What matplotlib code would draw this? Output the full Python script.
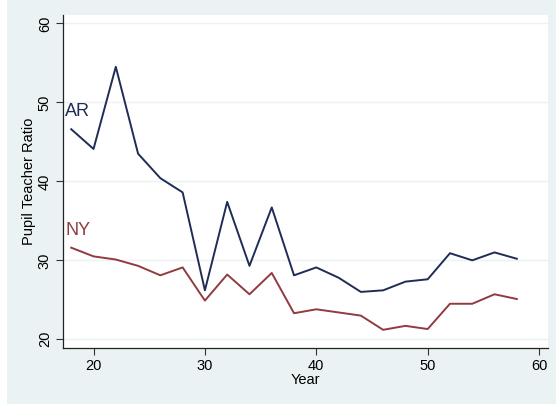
import numpy as np
import matplotlib
matplotlib.use("Agg")
import matplotlib.pyplot as plt
from matplotlib.patches import Rectangle

# Pupil-teacher ratio by year
years = [18, 20, 22, 24, 26, 28, 30, 32, 34, 36, 38, 40, 42, 44, 46, 48, 50, 52, 54, 56, 58]
ar_ratio = [46.6, 44.1, 54.5, 43.5, 40.4, 38.6, 26.2, 37.4, 29.3, 36.7, 28.1,
            29.1, 27.8, 26.0, 26.2, 27.3, 27.6, 30.9, 30.0, 31.0, 30.2]
ny_ratio = [31.6, 30.5, 30.1, 29.3, 28.1, 29.1, 24.9, 28.2, 25.7, 28.4, 23.3,
            23.8, 23.4, 23.0, 21.2, 21.7, 21.3, 24.5, 24.5, 25.7, 25.1]
x_ticks = [20, 30, 40, 50, 60]
y_ticks = [20, 30, 40, 50, 60]

NAVY   = "#1f2d56"
MAROON = "#913a40"
BG     = "#eaf2f3"

plt.rcParams["font.family"] = ["Liberation Sans", "DejaVu Sans"]

fig = plt.figure(figsize=(5.56, 4.04), dpi=100, facecolor=BG)
fig.patches.append(Rectangle((0, 0), 7 / 556, 1, transform=fig.transFigure,
                             facecolor="white", edgecolor="none", zorder=-1))

ax = fig.add_axes([63 / 556, 55.7 / 404, 485 / 556, 333.6 / 404])
ax.set_facecolor("white")

ax.plot(years, ar_ratio, color=NAVY, linewidth=1.4)
ax.plot(years, ny_ratio, color=MAROON, linewidth=1.4)

ax.text(17.45, 48.8, "AR", color=NAVY, fontsize=13, ha="left", va="center")
ax.text(17.45, 33.8, "NY", color=MAROON, fontsize=13, ha="left", va="center")

ax.set_xlim(17.26, 60.8)
ax.set_ylim(18.86, 61.1)
ax.set_xticks(x_ticks)
ax.set_yticks(y_ticks)
ax.set_yticklabels([str(t) for t in y_ticks], rotation=90, va="center")
ax.tick_params(axis="both", labelsize=10.5, length=5, width=0.8, color="#333333", pad=3)
ax.grid(True, axis="y", color=BG, linewidth=1)
ax.set_axisbelow(True)

for s in ["top", "right"]:
    ax.spines[s].set_visible(False)
for s in ["left", "bottom"]:
    ax.spines[s].set_color("#222222")
    ax.spines[s].set_linewidth(0.9)

ax.set_xlabel("Year", fontsize=10.5, labelpad=0)
ax.set_ylabel("Pupil Teacher Ratio", fontsize=10.5, labelpad=1)

fig.savefig("out.png", dpi=100, facecolor=BG)
